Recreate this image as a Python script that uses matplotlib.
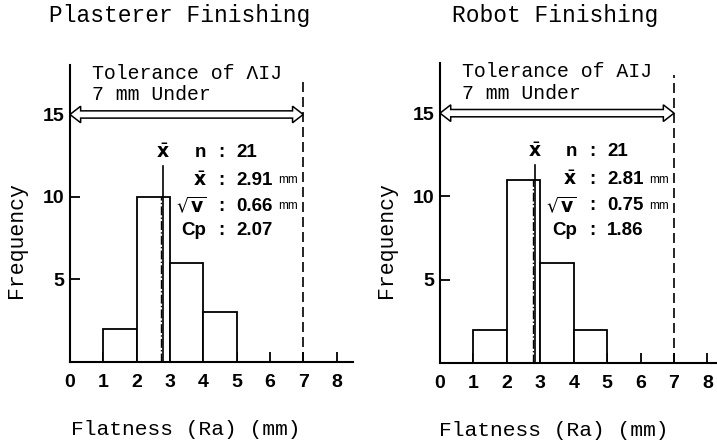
import matplotlib
matplotlib.use('Agg')
import matplotlib.pyplot as plt
from matplotlib.patches import Polygon

# histogram data
bin_edges = [1, 2, 3, 4, 5]
plaster_counts = [2, 10, 6, 3]
robot_counts = [2, 11, 6, 2]

# mean marker position as drawn, tolerance limit
plaster_mean_pos = 2.78
robot_mean_pos = 2.85
tolerance = 7

plaster_stats = ['21', '2.91', '0.66', '2.07']
robot_stats = ['21', '2.81', '0.75', '1.86']

xticks = [0, 1, 2, 3, 4, 5, 6, 7, 8]
yticks = [5, 10, 15]

mono = 'Liberation Mono'
sans = ['Liberation Sans', 'DejaVu Sans']

fig = plt.figure(figsize=(7.17, 4.42), dpi=100)


def hollow_arrow(ax, x0, x1, y):
    hl, hw, sw = 0.32, 0.5, 0.22
    pts = [(x0, y), (x0 + hl, y + hw), (x0 + hl, y + sw), (x1 - hl, y + sw),
           (x1 - hl, y + hw), (x1, y), (x1 - hl, y - hw), (x1 - hl, y - sw),
           (x0 + hl, y - sw), (x0 + hl, y - hw)]
    ax.add_patch(Polygon(pts, closed=True, facecolor='white', edgecolor='black',
                         lw=1.1, clip_on=False, zorder=4))


def draw_panel(rect, counts, mean_pos, stats, title, title_x, tol_text, xmax, ylab_x):
    ax = fig.add_axes(rect)
    ax.set_xlim(0, xmax)
    ax.set_ylim(0, 18)
    for s in ['top', 'right']:
        ax.spines[s].set_visible(False)
    for s in ['left', 'bottom']:
        ax.spines[s].set_linewidth(1.5)

    ax.bar(bin_edges[:-1], counts, width=1, align='edge', facecolor='white',
           edgecolor='black', lw=1.3, zorder=2)

    # mean line
    ax.plot([mean_pos, mean_pos], [0, 11.9], color='black', lw=1.2, zorder=3)
    ax.plot([mean_pos - 0.06, mean_pos - 0.06], [0, max(counts)], color='black',
            lw=1.0, ls='-.', zorder=3)
    ax.text(mean_pos, 12.7, r'$\bar{\mathbf{x}}$', ha='center', va='center', fontsize=13.5)

    # tolerance limit
    ax.plot([tolerance, tolerance], [0, 17.3], color='black', lw=1.2, ls=(0, (6, 3)))
    hollow_arrow(ax, 0, tolerance, 15)
    ax.text(0.66, 17.5, tol_text, family=mono, fontsize=14.3, va='center')
    ax.text(0.66, 16.2, '7 mm Under', family=mono, fontsize=14.3, va='center')

    labels = ['n', r'$\bar{\mathbf{x}}$', r'$\sqrt{\mathbf{v}}$', 'Cp']
    units = ['', ' mm', ' mm', '']
    rows = [12.7, 11.0, 9.45, 7.95]
    for lab, val, unit, yy in zip(labels, stats, units, rows):
        ax.text(4.1, yy, lab, ha='right', va='center', fontsize=13.5,
                family=sans, weight='bold')
        ax.text(4.55, yy, ':', ha='center', va='center', fontsize=13.5,
                family=sans, weight='bold')
        ax.text(5.0, yy, val, ha='left', va='center', fontsize=13.5,
                family=sans, weight='bold')
        if unit:
            ax.text(6.25, yy, 'mm', ha='left', va='center', fontsize=8.5,
                    family=sans)

    ax.set_xticks(xticks)
    ax.set_yticks(yticks)
    ax.tick_params(direction='in', length=7, width=1.3, labelsize=14, pad=9)
    ax.tick_params(axis='y', pad=4)
    for lab in ax.get_xticklabels() + ax.get_yticklabels():
        lab.set_family(sans)
        lab.set_weight('bold')

    ax.set_ylabel('Frequency', family=mono, fontsize=15.5)
    ax.yaxis.set_label_coords(ylab_x, 0.41)
    ax.set_xlabel('Flatness (Ra) (mm)', family=mono, fontsize=15.3)
    ax.xaxis.set_label_coords(0.41, -0.195)

    fig.text(title_x, 0.965, title, family=mono, fontsize=16.5, ha='center', va='center')
    return ax


draw_panel([0.0976, 0.181, 0.395, 0.672], plaster_counts, plaster_mean_pos,
           plaster_stats, 'Plasterer Finishing', 0.251, 'Tolerance of \u039bIJ', 8.5, -0.15)
draw_panel([0.6137, 0.179, 0.387, 0.678], robot_counts, robot_mean_pos,
           robot_stats, 'Robot Finishing', 0.774, 'Tolerance of AIJ', 8.3, -0.155)

fig.savefig('out.png', dpi=100)
